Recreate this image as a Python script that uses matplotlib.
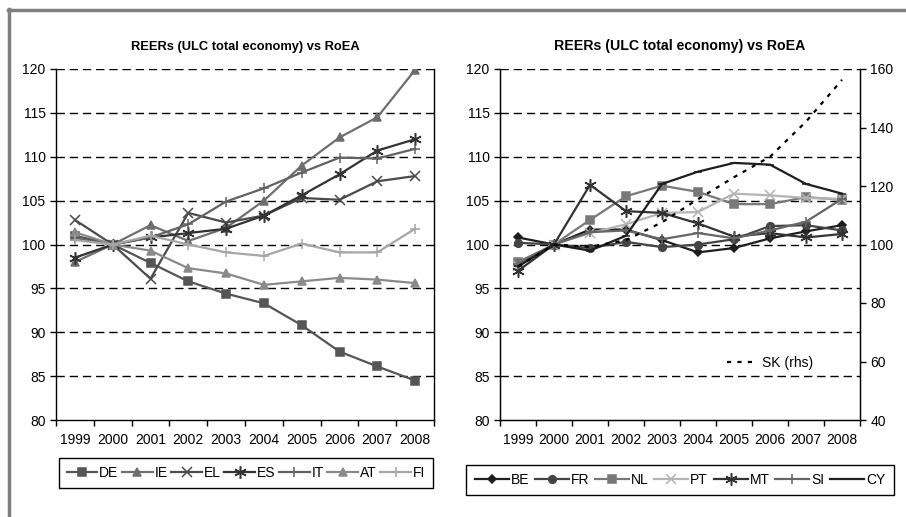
import matplotlib
matplotlib.use("Agg")
import matplotlib.pyplot as plt
from matplotlib.lines import Line2D
import numpy as np

plt.rcParams['font.family'] = ['Liberation Sans', 'DejaVu Sans']
plt.rcParams['lines.scale_dashes'] = False

years = ['1999', '2000', '2001', '2002', '2003', '2004', '2005', '2006', '2007', '2008']

# left chart
DE = [101.0, 100.0, 97.9, 95.8, 94.4, 93.3, 90.8, 87.8, 86.1, 84.5]
IE = [98.0, 100.0, 102.2, 100.4, 101.9, 105.0, 109.0, 112.2, 114.5, 119.9]
EL = [102.8, 100.0, 96.1, 103.6, 102.5, 103.3, 105.3, 105.1, 107.2, 107.8]
ES = [98.5, 100.0, 100.8, 101.3, 101.8, 103.3, 105.6, 108.0, 110.7, 112.0]
IT = [100.7, 100.0, 100.8, 102.3, 104.9, 106.4, 108.2, 109.9, 109.8, 110.9]
AT = [101.4, 100.0, 99.3, 97.3, 96.7, 95.4, 95.8, 96.2, 96.0, 95.6]
FI = [100.5, 100.0, 101.0, 100.0, 99.1, 98.7, 100.1, 99.1, 99.1, 101.8]

# right chart
BE = [100.8, 100.0, 101.7, 101.7, 100.5, 99.1, 99.6, 100.7, 101.5, 102.2]
FR = [100.2, 100.0, 99.6, 100.3, 99.7, 100.0, 100.6, 102.1, 102.2, 101.6]
NL = [98.0, 100.0, 102.8, 105.5, 106.7, 106.0, 104.6, 104.6, 105.4, 105.1]
PT = [97.6, 100.0, 101.3, 102.3, 103.6, 103.7, 105.8, 105.6, 105.3, 105.2]
MT = [97.0, 100.0, 106.8, 103.8, 103.6, 102.4, 100.9, 101.3, 100.8, 101.2]
SI = [97.8, 100.0, 101.4, 101.6, 100.6, 101.3, 100.7, 101.6, 102.6, 105.2]
CY = [97.5, 100.0, 99.3, 101.0, 106.9, 108.3, 109.3, 109.1, 106.9, 105.8]
SK = [92.5, 100.0, 99.2, 101.5, 107.6, 115.5, 123.0, 130.0, 142.0, 156.3]

star = (6, 2, 0)

left_series = [
    ('DE', DE, '#555555', 's', 5.5),
    ('IE', IE, '#6e6e6e', '^', 5.5),
    ('EL', EL, '#4b4b4b', 'x', 7),
    ('ES', ES, '#333333', star, 9),
    ('IT', IT, '#626262', '+', 7),
    ('AT', AT, '#8a8a8a', '^', 5.5),
    ('FI', FI, '#a6a6a6', '+', 7),
]
right_series = [
    ('BE', BE, '#1e1e1e', 'D', 4.5),
    ('FR', FR, '#444444', 'o', 5.5),
    ('NL', NL, '#787878', 's', 5.5),
    ('PT', PT, '#b4b4b4', 'x', 7),
    ('MT', MT, '#333333', star, 9),
    ('SI', SI, '#666666', '+', 7),
    ('CY', CY, '#1e1e1e', '_', 6),
]

W, H = 906, 517
fig = plt.figure(figsize=(W / 100, H / 100), dpi=100)


def px_axes(x0, y0, x1, y1):
    return fig.add_axes([x0 / W, 1 - y1 / H, (x1 - x0) / W, (y1 - y0) / H])


def style_axes(ax, title_size):
    x = np.arange(len(years))
    ax.set_xlim(-0.5, len(years) - 0.5)
    ax.set_ylim(80, 120)
    ax.set_yticks(range(80, 121, 5))
    for v in range(85, 121, 5):
        ax.axhline(v, color='black', lw=1.0, dashes=(6, 3.5), zorder=1)
    ax.set_xticks(np.arange(-0.5, len(years), 1.0))
    ax.set_xticklabels([])
    ax.set_xticks(x, minor=True)
    ax.set_xticklabels(years, minor=True, fontsize=10)
    ax.tick_params(axis='x', which='major', direction='out', length=4, width=1)
    ax.tick_params(axis='x', which='minor', length=0, pad=9)
    ax.tick_params(axis='y', direction='out', length=4, width=1, labelsize=10)
    ax.spines['top'].set_visible(False)
    for s in ['left', 'bottom', 'right']:
        ax.spines[s].set_linewidth(1.0)
    ax.set_title('REERs (ULC total economy) vs RoEA', fontsize=title_size,
                 fontweight='bold', pad=14)


def draw(ax, series):
    x = np.arange(len(years))
    for name, vals, col, mk, ms in series:
        ax.plot(x, vals, color=col, lw=1.6, marker=mk, markersize=ms,
                markeredgewidth=1.1, markerfacecolor=col, markeredgecolor=col,
                label=name, zorder=3)


axL = px_axes(56, 69, 434, 420)
style_axes(axL, 9.3)
draw(axL, left_series)
axL.legend(loc='center', bbox_to_anchor=(246 / W, 1 - 473 / H),
           bbox_transform=fig.transFigure, ncol=7, fontsize=10,
           handlelength=2.2, handletextpad=0.15, columnspacing=0.25,
           borderpad=0.55, fancybox=False, edgecolor='black', framealpha=1)
axL.get_legend().get_frame().set_linewidth(1.0)

axR = px_axes(500, 69, 860, 420)
style_axes(axR, 10.2)
draw(axR, right_series)
axR.legend(loc='center', bbox_to_anchor=(680 / W, 1 - 480 / H),
           bbox_transform=fig.transFigure, ncol=7, fontsize=10,
           handlelength=2.45, handletextpad=0.15, columnspacing=0.4,
           borderpad=0.6, fancybox=False, edgecolor='black', framealpha=1)
axR.get_legend().get_frame().set_linewidth(1.0)

axR2 = axR.twinx()
axR2.set_ylim(40, 160)
axR2.set_yticks(range(40, 161, 20))
axR2.tick_params(axis='y', direction='out', length=4, width=1, labelsize=10)
axR2.spines['top'].set_visible(False)
skl, = axR2.plot(np.arange(len(years)), SK, color='black', lw=1.6,
                 dashes=(3, 4.5), label='SK (rhs)', zorder=4)
axR2.legend(handles=[skl], loc='center', bbox_to_anchor=(0.75, 0.162),
            frameon=False, fontsize=10, handlelength=2.0, handletextpad=0.5,
            borderpad=0.1)

# outer grey frame
fig.add_artist(Line2D([8 / W, 1], [1 - 10 / H, 1 - 10 / H], color='#808080',
                      lw=2.5, transform=fig.transFigure))
fig.add_artist(Line2D([9 / W, 9 / W], [0, 1 - 9 / H], color='#808080',
                      lw=2.5, transform=fig.transFigure))

fig.savefig('out.png', dpi=100)
